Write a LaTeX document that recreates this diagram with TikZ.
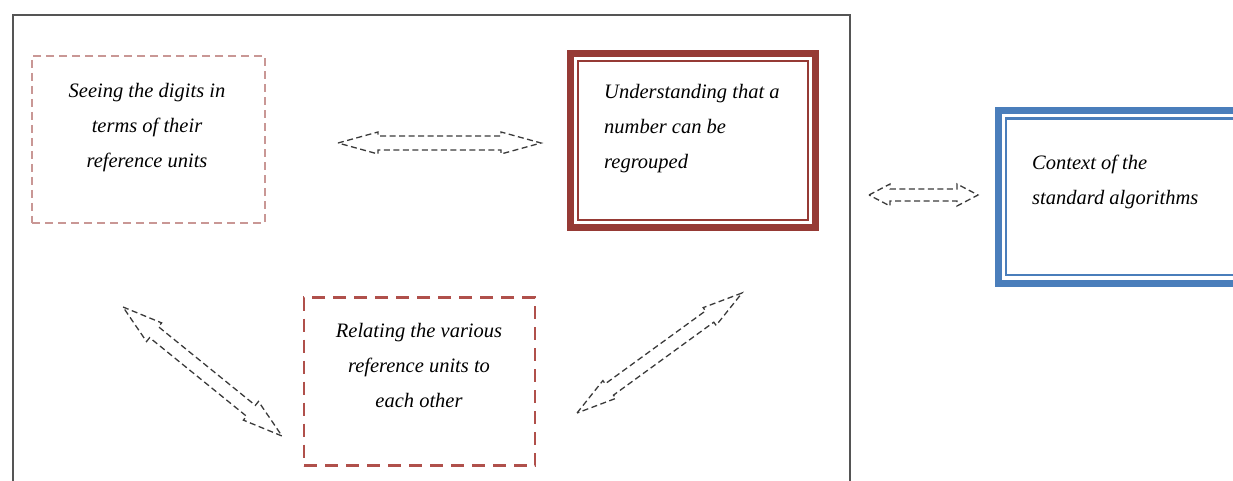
\documentclass[tikz,border=0pt]{standalone}
\usepackage{fontspec}
\setmainfont{Liberation Serif}
\usetikzlibrary{calc}
\definecolor{pinkdash}{HTML}{C99795}
\definecolor{reddash}{HTML}{B0504B}
\definecolor{darkred}{HTML}{963A35}
\definecolor{steelblue}{HTML}{4A7EBB}
\definecolor{framegray}{HTML}{555555}
\definecolor{arrowgray}{HTML}{3A3A3A}
\newcommand\hollowarrow[5]{%
  \coordinate (#1-h) at ($(#1)!#3!(#2)$);
  \coordinate (#2-h) at ($(#2)!#3!(#1)$);
  \draw[arrowline] (#1) -- ($(#1-h)!#5!90:(#2)$) -- ($(#1-h)!#4!90:(#2)$)
    -- ($(#2-h)!#4!-90:(#1)$) -- ($(#2-h)!#5!-90:(#1)$) -- (#2)
    -- ($(#2-h)!#5!90:(#1)$) -- ($(#2-h)!#4!90:(#1)$)
    -- ($(#1-h)!#4!-90:(#2)$) -- ($(#1-h)!#5!-90:(#2)$) -- cycle;}
\tikzset{
  arrowline/.style={draw=arrowgray, line width=1.3pt, dash pattern=on 6pt off 3.5pt, line join=miter},
  txt/.style={inner sep=0pt, font=\fontsize{20.5}{35}\selectfont\itshape, text=black},
  dashbox/.style={rectangle, inner sep=0pt, outer sep=0pt},
  thickbox/.style={rectangle, inner sep=0pt, outer sep=0pt, line width=7pt},
}
\begin{document}
\begin{tikzpicture}[x=1pt, y=-1pt]
\useasboundingbox (0,0) rectangle (1233,481);
% outer frame
\draw[framegray, line width=1.6pt] (13,485) -- (13,15) -- (850,15) -- (850,485);
% boxes
\node[dashbox, draw=pinkdash, line width=2pt, dash pattern=on 8pt off 5pt,
      minimum width=233pt, minimum height=167pt] (seeing) at (148.5,139.5) {};
\node[dashbox, draw=reddash, line width=2.4pt, dash pattern=on 13pt off 8pt,
      minimum width=231pt, minimum height=168pt] (relating) at (419.5,381.5) {};
\node[thickbox, draw=darkred, minimum width=245pt, minimum height=174pt] (regroup) at (693,140.5) {};
\draw[darkred, line width=2.5pt] ([shift={(7.5,7.5)}]regroup.north west) rectangle ([shift={(-7.5,-7.5)}]regroup.south east);
\node[thickbox, draw=steelblue, minimum width=261pt, minimum height=173pt] (context) at (1129,197) {};
\draw[steelblue, line width=2.5pt] ([shift={(7.5,8)}]context.north west) rectangle ([shift={(-7.5,-8.5)}]context.south east);
% texts
\node[txt, align=center] (t1) at (147,128) {Seeing the digits in\\terms of their\\reference units};
\node[txt, align=left, anchor=west] (t2) at (604,129) {Understanding that a\\number can be\\regrouped};
\node[txt, align=left, anchor=west] (t3) at (1032,182) {Context of the\\standard algorithms};
\node[txt, align=center] (t4) at (419,365) {Relating the various\\reference units to\\each other};
% arrows
\coordinate (a1) at (338,143); \coordinate (b1) at (541,143);
\coordinate (a2) at (869,195); \coordinate (b2) at (978,195);
\coordinate (a3) at (123,307); \coordinate (b3) at (282,436);
\coordinate (a4) at (577,413); \coordinate (b4) at (742,293);
\hollowarrow{a1}{b1}{40pt}{7pt}{11pt}
\hollowarrow{a2}{b2}{21pt}{6pt}{11pt}
\hollowarrow{a3}{b3}{40pt}{7pt}{12pt}
\hollowarrow{a4}{b4}{40pt}{7pt}{11pt}
\end{tikzpicture}
\end{document}
